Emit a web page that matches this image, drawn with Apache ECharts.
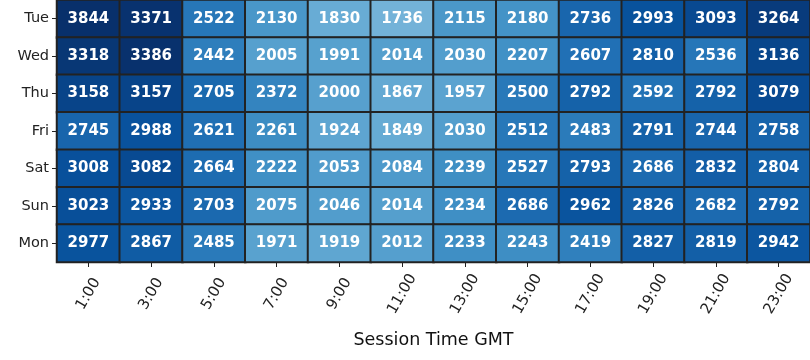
<!DOCTYPE html>
<html><head><meta charset="utf-8">
<script src="https://cdn.jsdelivr.net/npm/echarts@6/dist/echarts.min.js"></script>
<style>html,body{margin:0;padding:0;background:#fff}#c{width:810px;height:360px}</style>
</head><body><div id="c"></div>
<script>
const days = ['Tue','Wed','Thu','Fri','Sat','Sun','Mon'];
const hours = ['1:00','3:00','5:00','7:00','9:00','11:00','13:00','15:00','17:00','19:00','21:00','23:00'];
const tue = [3844,3371,2522,2130,1830,1736,2115,2180,2736,2993,3093,3264];
const wed = [3318,3386,2442,2005,1991,2014,2030,2207,2607,2810,2536,3136];
const thu = [3158,3157,2705,2372,2000,1867,1957,2500,2792,2592,2792,3079];
const fri = [2745,2988,2621,2261,1924,1849,2030,2512,2483,2791,2744,2758];
const sat = [3008,3082,2664,2222,2053,2084,2239,2527,2793,2686,2832,2804];
const sun = [3023,2933,2703,2075,2046,2014,2234,2686,2962,2826,2682,2792];
const mon = [2977,2867,2485,1971,1919,2012,2233,2243,2419,2827,2819,2942];
const rows = [tue,wed,thu,fri,sat,sun,mon];
const data = [];
rows.forEach((r,yi)=>r.forEach((v,xi)=>data.push([xi,yi,v])));
const blues = ['#f7fbff','#deebf7','#c6dbef','#9ecae1','#6baed6','#4292c6','#2171b5','#08519c','#08306b'];
const font = 'DejaVu Sans';
const chart = echarts.init(document.getElementById('c'), null, {renderer:'canvas'});
chart.setOption({
  animation:false,
  grid:{left:57,right:0,top:0,bottom:98},
  xAxis:{type:'category',data:hours,
    name:'Session Time GMT',nameLocation:'middle',nameGap:69,
    nameTextStyle:{fontFamily:font,fontSize:17.5,color:'#111'},
    axisLine:{show:false},
    axisTick:{show:true,alignWithLabel:true,length:5,lineStyle:{color:'#222'}},
    axisLabel:{rotate:60,fontFamily:font,fontSize:15,color:'#222',margin:32,align:'center',verticalAlign:'middle',interval:0},
    splitArea:{show:false}},
  yAxis:{type:'category',data:days,inverse:true,
    axisLine:{show:false},
    axisTick:{show:true,alignWithLabel:true,length:5,lineStyle:{color:'#222'}},
    axisLabel:{fontFamily:font,fontSize:14.5,color:'#222',margin:8}},
  visualMap:{show:false,min:200,max:3400,dimension:2,inRange:{color:blues}},
  series:[{type:'heatmap',data:data,
    itemStyle:{borderColor:'#222',borderWidth:2},
    label:{show:true,color:'#fff',fontFamily:font,fontWeight:'bold',fontSize:15,
      formatter:p=>p.value[2]},
    emphasis:{disabled:true}}]
});
</script></body></html>
